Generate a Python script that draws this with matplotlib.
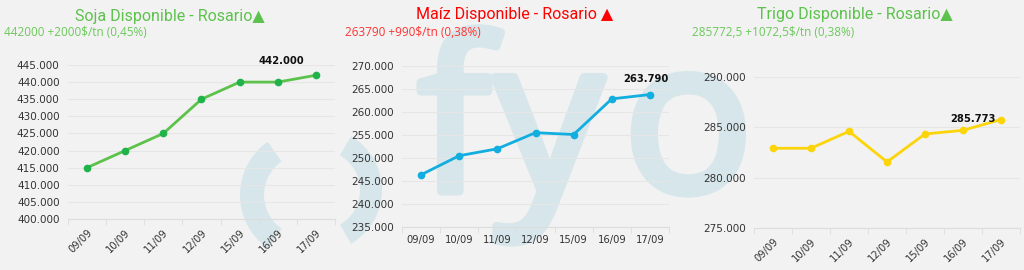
import matplotlib.pyplot as plt
from matplotlib.patches import Wedge, PathPatch
from matplotlib.textpath import TextPath
from matplotlib.font_manager import FontProperties
from matplotlib.transforms import Affine2D
from matplotlib.ticker import FuncFormatter, MultipleLocator, FixedLocator

# datos
fechas = ["09/09", "10/09", "11/09", "12/09", "15/09", "16/09", "17/09"]
soja = [415000, 420000, 425000, 435000, 440000, 440000, 442000]
maiz = [246350, 250500, 252000, 255500, 255100, 262850, 263790]
trigo = [282920, 282920, 284600, 281560, 284340, 284700, 285773]

titulos = ["Soja Disponible - Rosario▲", "Maíz Disponible - Rosario ▲", "Trigo Disponible - Rosario▲"]
subtitulos = ["442000 +2000$/tn (0,45%)", "263790 +990$/tn (0,38%)", "285772,5 +1072,5$/tn (0,38%)"]
etiquetas = ["442.000", "263.790", "285.773"]

fondo = "#f2f2f2"
marca = "#d6e6eb"
fuente = ["Open Sans", "DejaVu Sans"]
fuente_tit = ["Roboto", "DejaVu Sans"]

fig = plt.figure(figsize=(10.24, 2.7), dpi=100, facecolor=fondo)

# marca de agua fyo
bg = fig.add_axes([0, 0, 1, 1], zorder=0)
bg.set_xlim(0, 1024)
bg.set_ylim(270, 0)
bg.axis("off")
bg.add_patch(Wedge((305, 195), 65, 125, 235, width=24, color=marca, lw=0))
bg.add_patch(Wedge((320, 190), 62, -60, 60, width=22, color=marca, lw=0))
prop_marca = FontProperties(family="Open Sans")
for letra, x0 in [("f", 421), ("y", 495), ("o", 635)]:
    tp = TextPath((0, 0), letra, size=212, prop=prop_marca)
    ext = tp.get_extents()
    bg.add_patch(PathPatch(tp, fc=marca, ec=marca, lw=6.5, joinstyle="round",
                           transform=Affine2D().scale(1.02, -1).translate(x0 - ext.x0, 191) + bg.transData))


def miles(v, pos=None):
    return f"{v:,.0f}".replace(",", ".")


def panel(rect, valores, color_linea, color_marker, ymin, ymax, rotar):
    ax = fig.add_axes(rect, zorder=1)
    ax.set_facecolor("none")
    x = list(range(len(fechas)))
    ax.plot(x, valores, color=color_linea, lw=2, marker="o", ms=4.5,
            mfc=color_marker, mec=color_marker, zorder=3, clip_on=False)
    ax.set_xlim(-0.5, len(fechas) - 0.5)
    ax.set_ylim(ymin, ymax)
    ax.yaxis.set_major_locator(MultipleLocator(5000))
    ax.yaxis.set_major_formatter(FuncFormatter(miles))
    ax.set_xticks(x)
    ax.set_xticklabels(fechas)
    ax.xaxis.set_minor_locator(FixedLocator([i - 0.5 for i in range(len(fechas) + 1)]))
    ax.tick_params(axis="x", which="major", length=0, pad=6, labelsize=7.2, colors="#333333")
    ax.tick_params(axis="x", which="minor", length=4, color="#dddddd")
    ax.tick_params(axis="y", length=0, pad=6, labelsize=7.5, colors="#333333")
    if rotar:
        for t in ax.get_xticklabels():
            t.set_rotation(45)
            t.set_ha("right")
            t.set_rotation_mode("anchor")
    ax.grid(axis="y", color="#e6e6e6", lw=0.8)
    ax.set_axisbelow(True)
    for s in ["top", "right", "left"]:
        ax.spines[s].set_visible(False)
    ax.spines["bottom"].set_color("#dddddd")
    return ax


ax1 = panel([0.0664, 0.1889, 0.2607, 0.5704], soja, "#5cc24c", "#1fb34a", 400000, 445000, True)
ax2 = panel([0.3926, 0.1593, 0.2607, 0.5963], maiz, "#12aee0", "#12aee0", 235000, 270000, False)
ax3 = panel([0.7363, 0.1556, 0.2598, 0.5593], trigo, "#fcd40a", "#fcd40a", 275000, 290000, True)

# etiquetas de ultimo valor
ax1.annotate(etiquetas[0], (6, soja[-1]), xytext=(-25, 8), textcoords="offset points",
             ha="center", fontsize=7.2, weight="bold", color="#111111")
ax2.annotate(etiquetas[1], (6, maiz[-1]), xytext=(-3, 9), textcoords="offset points",
             ha="center", fontsize=7.2, weight="bold", color="#111111")
ax3.annotate(etiquetas[2], (6, trigo[-1]), xytext=(-20, -2), textcoords="offset points",
             ha="center", fontsize=7.2, weight="bold", color="#111111")

# titulos
fig.text(170 / 1024, 1 - 17 / 270, titulos[0], ha="center", va="center", fontsize=11.5,
         family=fuente_tit, color="#5cc24c")
fig.text(515 / 1024, 1 - 15 / 270, titulos[1], ha="center", va="center", fontsize=11.5,
         family=fuente_tit, color="#ff0000")
fig.text(855 / 1024, 1 - 15 / 270, titulos[2], ha="center", va="center", fontsize=11.5,
         family=fuente_tit, color="#5cc24c")

fig.text(4 / 1024, 1 - 33 / 270, subtitulos[0], ha="left", va="center", fontsize=8.5,
         family=fuente, color="#6cc85c")
fig.text(345 / 1024, 1 - 33 / 270, subtitulos[1], ha="left", va="center", fontsize=8.5,
         family=fuente, color="#ff3333")
fig.text(692 / 1024, 1 - 33 / 270, subtitulos[2], ha="left", va="center", fontsize=8.5,
         family=fuente, color="#6cc85c")

fig.savefig("out.png", dpi=100, facecolor=fondo)
